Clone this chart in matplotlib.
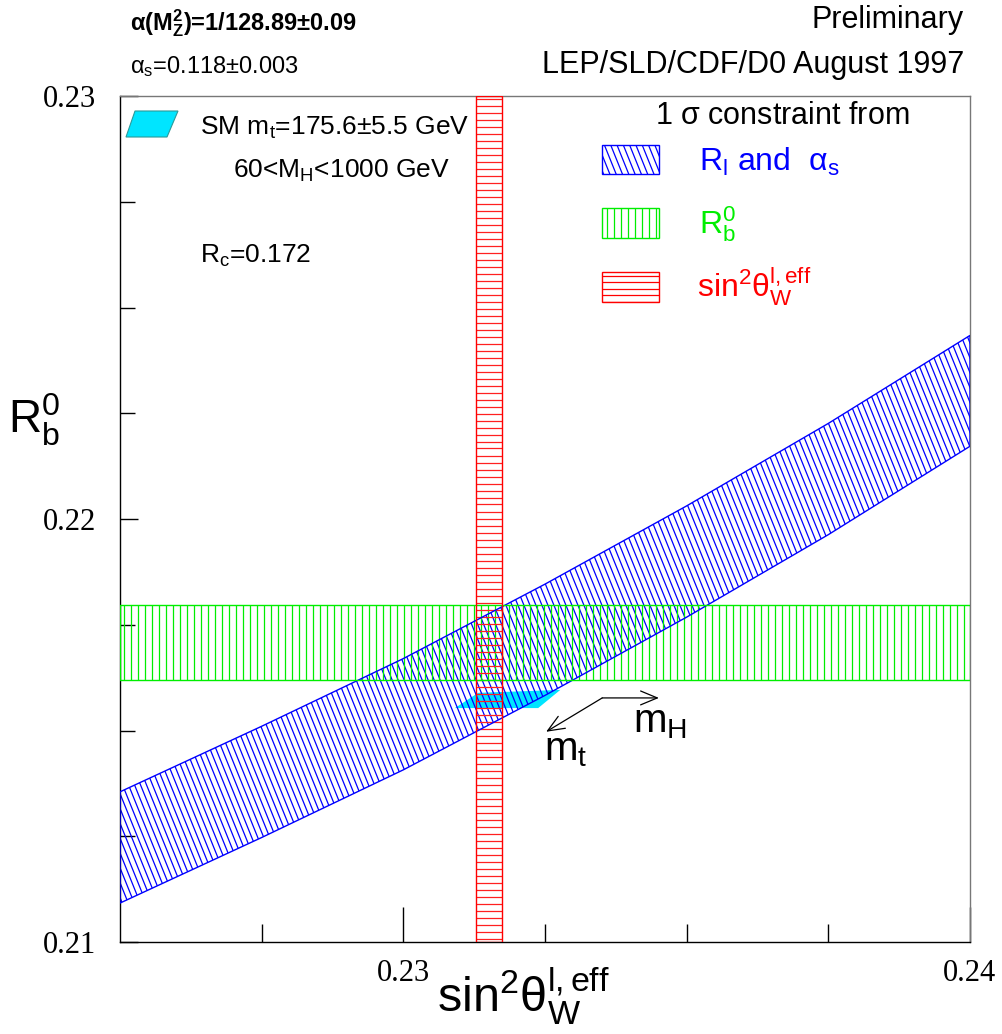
import numpy as np
import matplotlib
matplotlib.use('Agg')
import matplotlib.pyplot as plt
from matplotlib.patches import Polygon, Rectangle
from matplotlib.collections import LineCollection

plt.rcParams['font.family'] = ['Liberation Sans', 'DejaVu Sans']
plt.rcParams['mathtext.fontset'] = 'custom'
plt.rcParams['mathtext.rm'] = 'Liberation Sans'
plt.rcParams['mathtext.it'] = 'Liberation Sans'
plt.rcParams['mathtext.bf'] = 'Liberation Sans:bold'
plt.rcParams['mathtext.sf'] = 'Liberation Sans'

# --- values ---
sw2_val, sw2_err = 0.23151, 0.00023      # sin^2 theta_eff band
rb_val, rb_err = 0.21708, 0.00089        # Rb0 band
rl_x = [0.225, 0.2275, 0.230, 0.2325, 0.235, 0.2375, 0.240]
rl_upper = [0.21355, 0.21510, 0.21670, 0.21846, 0.22031, 0.22226, 0.22434]
rl_lower = [0.21092, 0.21247, 0.21407, 0.21583, 0.21768, 0.21963, 0.22172]
sm_x = [0.23091, 0.23132, 0.23277, 0.23238]
sm_y = [0.21553, 0.21589, 0.21596, 0.21553]
arrow_origin = (0.23351, 0.21577)
arrow_mh = (0.23451, 0.21577)
arrow_mt = (0.23252, 0.21497)

xlim = (0.225, 0.240)
ylim = (0.210, 0.230)
xticks = [0.23, 0.24]
yticks = [0.21, 0.22, 0.23]

W, H = 850., 846.   # axes size in pixels


def fx(px):
    return px / 1002.


def fy(py):
    return 1 - py / 1034.


def hatch(ax, patch, kind, step, color, angle=68, lw=0.9):
    segs = []
    if kind == 'v':
        for x in np.arange(step / 2, W, step):
            segs.append([(x / W, 0), (x / W, 1)])
    elif kind == 'h':
        for y in np.arange(step / 2, H, step):
            segs.append([(0, y / H), (1, y / H)])
    else:
        dx = H / np.tan(np.radians(angle))
        for x0 in np.arange(-dx, W + step, step):
            segs.append([(x0 / W, 1), ((x0 + dx) / W, 0)])
    lc = LineCollection(segs, colors=color, linewidths=lw, transform=ax.transAxes)
    ax.add_collection(lc)
    lc.set_clip_path(patch)


fig = plt.figure(figsize=(10.02, 10.34), dpi=100)
ax = fig.add_axes([120 / 1002., (1034 - 942) / 1034., 850 / 1002., 846 / 1034.])
ax.set_xlim(*xlim)
ax.set_ylim(*ylim)

# SM prediction
sm = Polygon(list(zip(sm_x, sm_y)), closed=True, facecolor='#00e5ff', edgecolor='none', zorder=1)
ax.add_patch(sm)

# R_l and alpha_s band
verts = list(zip(rl_x, rl_upper)) + list(zip(rl_x[::-1], rl_lower[::-1]))
blue = Polygon(verts, closed=True, facecolor='none', edgecolor='#0000ff', lw=1.0, zorder=3)
ax.add_patch(blue)
hatch(ax, blue, 'd', 6.0, '#0000ff')

# Rb band
green = Rectangle((xlim[0], rb_val - rb_err), xlim[1] - xlim[0], 2 * rb_err,
                  facecolor='none', edgecolor='#00ee00', lw=1.0, zorder=3)
ax.add_patch(green)
hatch(ax, green, 'v', 7.0, '#00ee00')

# sin2theta band
red = Rectangle((sw2_val - sw2_err, ylim[0]), 2 * sw2_err, ylim[1] - ylim[0],
                facecolor='none', edgecolor='#ff0000', lw=1.0, zorder=3)
ax.add_patch(red)
hatch(ax, red, 'h', 7.0, '#ff2020')

# arrows
astyle = '->,head_length=1.2,head_width=0.5'
ax.annotate('', xy=arrow_mh, xytext=arrow_origin,
            arrowprops=dict(arrowstyle=astyle, color='black', lw=0.9, shrinkA=0, shrinkB=0))
ax.annotate('', xy=arrow_mt, xytext=arrow_origin,
            arrowprops=dict(arrowstyle=astyle, color='black', lw=0.9, shrinkA=0, shrinkB=0))
fig.text(fx(633), fy(732), r'$\mathrm{m_H}$', fontsize=29, va='baseline')
fig.text(fx(544), fy(760), r'$\mathrm{m_t}$', fontsize=29, va='baseline')

# legend (top right)
fig.text(fx(655), fy(124), r'1 $\sigma$ constraint from', fontsize=22, va='baseline')
boxes = [((602, 145, 659, 174), 'd', '#0000ff', 6.3),
         ((602, 208, 659, 238), 'v', '#00ee00', 7.0),
         ((602, 272, 659, 302), 'h', '#ff0000', 6.5)]
for (x0, y0, x1, y1), kind, col, st in boxes:
    r = Rectangle(((x0 - 120) / W, (942 - y1) / H), (x1 - x0) / W, (y1 - y0) / H,
                  transform=ax.transAxes, facecolor='none', edgecolor=col, lw=1.0, zorder=4)
    ax.add_patch(r)
    hatch(ax, r, kind, st, col)
fig.text(fx(699), fy(171), r'$\mathrm{R_l\ and\ \ \alpha_s}$', fontsize=23, color='#0000ff', va='baseline')
fig.text(fx(699), fy(233), r'$\mathrm{R_b^0}$', fontsize=23, color='#00ee00', va='baseline')
fig.text(fx(697), fy(298), r'$\mathrm{sin^2\theta_W^{l,eff}}$', fontsize=23, color='#ff0000', va='baseline')

# SM legend (top left)
leg_sm = Polygon([((126 - 120) / W, (942 - 137) / H), ((135 - 120) / W, (942 - 111) / H),
                  ((178 - 120) / W, (942 - 111) / H), ((167 - 120) / W, (942 - 137) / H)],
                 closed=True, transform=ax.transAxes, facecolor='#00e5ff', edgecolor='#2a9a9a', lw=0.8)
ax.add_patch(leg_sm)
fig.text(fx(200), fy(135), r'SM $\mathrm{m_t}$=175.6±5.5 GeV', fontsize=19, va='baseline')
fig.text(fx(233), fy(178), r'60<$\mathrm{M_H}$<1000 GeV', fontsize=19, va='baseline')
fig.text(fx(200), fy(263), r'$\mathrm{R_c}$=0.172', fontsize=19, va='baseline')

# header
fig.text(fx(130), fy(30), r'$\mathbf{\alpha(M_Z^2)}$=1/128.89±0.09', fontsize=17,
         fontweight='bold', va='baseline')
fig.text(fx(130), fy(73), r'$\mathrm{\alpha_s}$=0.118±0.003', fontsize=17, va='baseline')
fig.text(fx(964), fy(28), 'Preliminary', fontsize=22, ha='right', va='baseline')
fig.text(fx(964), fy(73), 'LEP/SLD/CDF/D0 August 1997', fontsize=22, ha='right', va='baseline')

# axis titles
fig.text(fx(523), fy(1012), r'$\mathrm{sin^2\theta_W^{l,eff}}$', fontsize=35, ha='center', va='baseline')
fig.text(fx(8), fy(433), r'$\mathrm{R_b^0}$', fontsize=33, va='baseline')

# axes style
ax.set_xticks(xticks)
ax.set_yticks(yticks)
ax.set_xticks(np.arange(0.2275, 0.2400, 0.0025), minor=True)
ax.set_yticks(np.arange(0.2125, 0.2300, 0.0025), minor=True)
ax.set_xticklabels(['0.23', '0.24'])
ax.set_yticklabels(['0.21', '0.22', '0.23'])
ax.tick_params(axis='x', which='major', direction='in', length=25, width=1, pad=12)
ax.tick_params(axis='x', which='minor', direction='in', length=13, width=1)
ax.tick_params(axis='y', which='major', direction='in', length=13, width=1, pad=17)
ax.tick_params(axis='y', which='minor', direction='in', length=11, width=1)
for lab in ax.get_xticklabels() + ax.get_yticklabels():
    lab.set_fontfamily('Liberation Serif')
    lab.set_fontsize(22)
ax.spines['top'].set_color('#777777')
ax.spines['right'].set_color('#777777')
for s in ax.spines.values():
    s.set_linewidth(1.0)

plt.savefig('out.png', dpi=100)
